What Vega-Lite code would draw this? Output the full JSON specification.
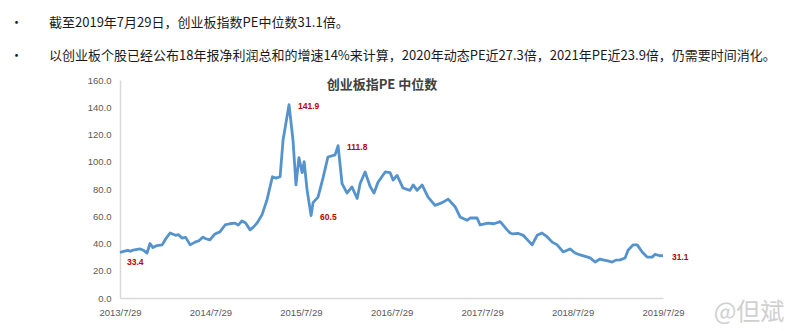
{
  "$schema": "https://vega.github.io/schema/vega-lite/v6.json",
  "width": 543,
  "height": 218,
  "autosize": "none",
  "padding": {"left": 120, "top": 80, "right": 137, "bottom": 33},
  "background": "white",
  "config": {
    "view": {"stroke": null},
    "font": "Noto Sans CJK SC",
    "axisY": {"labelOverlap": false, "labelFlush": false, "labelBound": false}
  },
  "title": {
    "text": ["•\u3000\u3000截至2019年7月29日，创业板指数PE中位数31.1倍。", "•\u3000\u3000以创业板个股已经公布18年报净利润总和的增速14%来计算，2020年动态PE近27.3倍，2021年PE近23.9倍，仍需要时间消化。"],
    "anchor": "start",
    "frame": "group",
    "dx": -110,
    "dy": 1,
    "fontSize": 13,
    "fontWeight": "normal",
    "color": "#1a1a1a",
    "lineHeight": 33,
    "baseline": "bottom",
    "offset": 0
  },
  "datasets": {
    "pe": [
      {"date": "2013/07/29", "pe": 33.4},
      {"date": "2013/08/12", "pe": 34.2},
      {"date": "2013/08/30", "pe": 35},
      {"date": "2013/09/10", "pe": 34.3},
      {"date": "2013/09/20", "pe": 35.2},
      {"date": "2013/10/18", "pe": 36},
      {"date": "2013/11/01", "pe": 35},
      {"date": "2013/11/15", "pe": 33},
      {"date": "2013/11/27", "pe": 40},
      {"date": "2013/12/09", "pe": 37},
      {"date": "2013/12/25", "pe": 38.5},
      {"date": "2014/01/15", "pe": 39},
      {"date": "2014/01/28", "pe": 43},
      {"date": "2014/02/16", "pe": 47.7},
      {"date": "2014/03/10", "pe": 46},
      {"date": "2014/03/22", "pe": 46.5},
      {"date": "2014/04/05", "pe": 44},
      {"date": "2014/04/20", "pe": 44.5},
      {"date": "2014/05/08", "pe": 39},
      {"date": "2014/05/28", "pe": 41},
      {"date": "2014/06/12", "pe": 42},
      {"date": "2014/06/29", "pe": 44.7},
      {"date": "2014/07/10", "pe": 43.5},
      {"date": "2014/07/27", "pe": 42.6},
      {"date": "2014/08/16", "pe": 47},
      {"date": "2014/09/05", "pe": 48.5},
      {"date": "2014/09/26", "pe": 53.6},
      {"date": "2014/10/15", "pe": 54.5},
      {"date": "2014/11/05", "pe": 55},
      {"date": "2014/11/18", "pe": 53.5},
      {"date": "2014/12/03", "pe": 56.5},
      {"date": "2014/12/18", "pe": 55},
      {"date": "2015/01/05", "pe": 50},
      {"date": "2015/01/18", "pe": 52},
      {"date": "2015/02/02", "pe": 55},
      {"date": "2015/02/22", "pe": 61},
      {"date": "2015/03/14", "pe": 72},
      {"date": "2015/04/05", "pe": 89},
      {"date": "2015/04/20", "pe": 88},
      {"date": "2015/05/06", "pe": 89},
      {"date": "2015/05/18", "pe": 116},
      {"date": "2015/06/11", "pe": 141.9},
      {"date": "2015/06/27", "pe": 116},
      {"date": "2015/07/09", "pe": 83},
      {"date": "2015/07/21", "pe": 103},
      {"date": "2015/08/03", "pe": 92},
      {"date": "2015/08/11", "pe": 100},
      {"date": "2015/08/23", "pe": 79},
      {"date": "2015/09/08", "pe": 60.5},
      {"date": "2015/09/16", "pe": 70},
      {"date": "2015/10/06", "pe": 74},
      {"date": "2015/10/26", "pe": 88},
      {"date": "2015/11/15", "pe": 103.5},
      {"date": "2015/12/14", "pe": 105},
      {"date": "2015/12/26", "pe": 111.8},
      {"date": "2016/01/11", "pe": 84},
      {"date": "2016/01/31", "pe": 77},
      {"date": "2016/02/20", "pe": 81.5},
      {"date": "2016/03/12", "pe": 73},
      {"date": "2016/03/24", "pe": 84},
      {"date": "2016/04/13", "pe": 92.5},
      {"date": "2016/05/03", "pe": 82},
      {"date": "2016/05/19", "pe": 77},
      {"date": "2016/06/04", "pe": 85},
      {"date": "2016/07/03", "pe": 92.5},
      {"date": "2016/07/23", "pe": 92},
      {"date": "2016/08/04", "pe": 86.6},
      {"date": "2016/08/20", "pe": 90},
      {"date": "2016/09/13", "pe": 80.7},
      {"date": "2016/10/11", "pe": 79},
      {"date": "2016/10/24", "pe": 83},
      {"date": "2016/11/09", "pe": 79},
      {"date": "2016/11/29", "pe": 83},
      {"date": "2016/12/23", "pe": 74},
      {"date": "2017/01/20", "pe": 68},
      {"date": "2017/02/18", "pe": 70},
      {"date": "2017/03/14", "pe": 72.6},
      {"date": "2017/04/11", "pe": 67},
      {"date": "2017/05/01", "pe": 59.5},
      {"date": "2017/05/29", "pe": 57},
      {"date": "2017/06/11", "pe": 58.7},
      {"date": "2017/07/09", "pe": 58.7},
      {"date": "2017/07/21", "pe": 53.6},
      {"date": "2017/08/22", "pe": 55},
      {"date": "2017/09/15", "pe": 54.5},
      {"date": "2017/10/10", "pe": 56},
      {"date": "2017/11/07", "pe": 50},
      {"date": "2017/11/19", "pe": 47.7},
      {"date": "2017/12/01", "pe": 47},
      {"date": "2017/12/20", "pe": 47.5},
      {"date": "2018/01/11", "pe": 46},
      {"date": "2018/02/16", "pe": 39},
      {"date": "2018/03/08", "pe": 46},
      {"date": "2018/03/28", "pe": 47.7},
      {"date": "2018/04/17", "pe": 45},
      {"date": "2018/05/08", "pe": 41},
      {"date": "2018/05/28", "pe": 39},
      {"date": "2018/06/21", "pe": 33.8},
      {"date": "2018/07/19", "pe": 36},
      {"date": "2018/08/08", "pe": 33},
      {"date": "2018/08/29", "pe": 31.6},
      {"date": "2018/09/18", "pe": 30.5},
      {"date": "2018/10/08", "pe": 29.4},
      {"date": "2018/10/28", "pe": 26.4},
      {"date": "2018/11/17", "pe": 28.6},
      {"date": "2018/11/29", "pe": 28},
      {"date": "2018/12/18", "pe": 27.2},
      {"date": "2019/01/05", "pe": 26.4},
      {"date": "2019/01/20", "pe": 27.8},
      {"date": "2019/02/06", "pe": 28},
      {"date": "2019/02/26", "pe": 29.4},
      {"date": "2019/03/10", "pe": 35},
      {"date": "2019/03/30", "pe": 39},
      {"date": "2019/04/16", "pe": 39},
      {"date": "2019/05/06", "pe": 33.8},
      {"date": "2019/05/26", "pe": 30},
      {"date": "2019/06/15", "pe": 30},
      {"date": "2019/06/27", "pe": 32},
      {"date": "2019/07/17", "pe": 31},
      {"date": "2019/07/29", "pe": 31.1}
    ],
    "labels": [
      {"date": "2013/07/29", "pe": 33.4, "label": "33.4"},
      {"date": "2015/06/11", "pe": 141.9, "label": "141.9"},
      {"date": "2015/09/08", "pe": 60.5, "label": "60.5"},
      {"date": "2015/12/26", "pe": 111.8, "label": "111.8"},
      {"date": "2019/07/29", "pe": 31.1, "label": "31.1"}
    ]
  },
  "layer": [
    {
      "data": {"name": "pe"},
      "mark": {"type": "line", "color": "#5593cc", "strokeWidth": 2.8, "strokeJoin": "round"},
      "encoding": {
        "x": {
          "field": "date",
          "type": "temporal",
          "scale": {"domain": [{"year": 2013, "month": 7, "date": 29}, {"year": 2019, "month": 7, "date": 29}]},
          "axis": {
            "title": null,
            "values": [
              {"year": 2013, "month": 7, "date": 29},
              {"year": 2014, "month": 7, "date": 29},
              {"year": 2015, "month": 7, "date": 29},
              {"year": 2016, "month": 7, "date": 29},
              {"year": 2017, "month": 7, "date": 29},
              {"year": 2018, "month": 7, "date": 29},
              {"year": 2019, "month": 7, "date": 29}
            ],
            "format": "%Y/%-m/%-d",
            "labelFlush": false,
            "labelOverlap": false,
            "ticks": false,
            "grid": false,
            "domainColor": "#d9d9d9",
            "domainWidth": 1.5,
            "labelColor": "#595959",
            "labelFontSize": 9.5,
            "labelFont": "Liberation Sans",
            "labelPadding": 9
          }
        },
        "y": {
          "field": "pe",
          "type": "quantitative",
          "scale": {"domain": [0, 160]},
          "axis": {
            "title": null,
            "values": [0, 20, 40, 60, 80, 100, 120, 140, 160],
            "tickCount": 9,
            "format": ".1f",
            "labelOverlap": false,
            "labelFlush": false,
            "ticks": false,
            "grid": false,
            "domainColor": "#d9d9d9",
            "domainWidth": 1.5,
            "labelColor": "#595959",
            "labelFontSize": 9.5,
            "labelFont": "Liberation Sans",
            "labelPadding": 9
          }
        }
      }
    },
    {
      "data": {"name": "labels"},
      "transform": [{"filter": "datum.label != '33.4'"}],
      "mark": {"type": "text", "align": "left", "dx": 9, "dy": 1, "color": "#c00000", "fontWeight": "bold", "fontSize": 8.5, "font": "Liberation Sans"},
      "encoding": {
        "x": {"field": "date", "type": "temporal"},
        "y": {"field": "pe", "type": "quantitative"},
        "text": {"field": "label"}
      }
    },
    {
      "data": {"name": "labels"},
      "transform": [{"filter": "datum.label == '33.4'"}],
      "mark": {"type": "text", "align": "left", "dx": 7, "dy": 10, "color": "#c00000", "fontWeight": "bold", "fontSize": 8.5, "font": "Liberation Sans"},
      "encoding": {
        "x": {"field": "date", "type": "temporal"},
        "y": {"field": "pe", "type": "quantitative"},
        "text": {"field": "label"}
      }
    },
    {
      "data": {"values": [{"t": "创业板指PE 中位数"}]},
      "mark": {"type": "text", "fontSize": 13, "fontWeight": "bold", "color": "#404040", "font": "Noto Sans CJK SC"},
      "encoding": {
        "x": {"datum": {"year": 2016, "month": 6, "date": 20}, "type": "temporal"},
        "y": {"datum": 156, "type": "quantitative"},
        "text": {"field": "t"}
      }
    },
    {
      "data": {"values": [{"t": "@但斌"}]},
      "mark": {"type": "text", "fontSize": 24, "color": "#d0d0d0", "font": "Noto Sans CJK SC"},
      "encoding": {
        "x": {"datum": {"year": 2020, "month": 7, "date": 10}, "type": "temporal"},
        "y": {"datum": -11, "type": "quantitative"},
        "text": {"field": "t"}
      }
    }
  ]
}
